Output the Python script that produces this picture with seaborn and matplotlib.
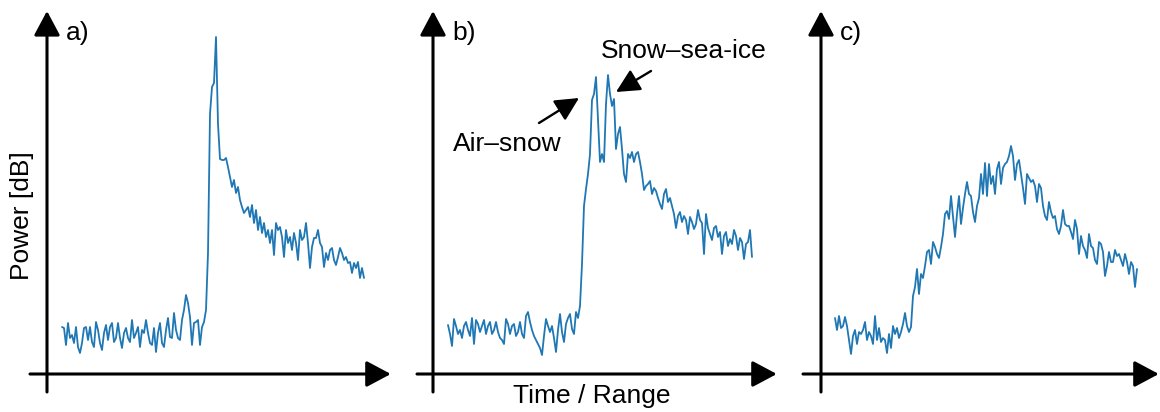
import numpy as np
import pandas as pd
import matplotlib
matplotlib.use("Agg")
import matplotlib.pyplot as plt
import seaborn as sns

# ---------------- data (power, arbitrary dB-like units above the axis) ----------------
panel_labels = ["a)", "b)", "c)"]

power_a = [
    47, 46, 29, 51, 36, 39, 31, 47, 27, 21,
    31, 46, 47, 34, 47, 32, 27, 52, 44, 31,
    24, 41, 49, 34, 47, 51, 32, 36, 51, 36,
    26, 41, 46, 36, 32, 54, 36, 41, 47, 27,
    44, 41, 54, 41, 31, 29, 46, 22, 41, 51,
    31, 27, 44, 56, 37, 36, 61, 44, 36, 34,
    54, 64, 79, 71, 57, 29, 51, 52, 54, 29,
    47, 52, 64,
    121, 260, 287, 291, 337, 250, 215,
    214, 214, 216, 207, 197, 187, 194, 181, 187, 174,
    167, 161, 164, 167, 157, 169, 151, 164, 144, 157,
    141, 151, 137, 144, 131, 144, 119, 151, 144, 147,
    137, 117, 144, 131, 137, 124, 141, 131, 114, 144,
    134, 137, 151, 131, 106, 127, 136, 136, 144, 131,
    127, 107, 121, 114, 124, 126, 114, 109, 117, 126,
    121, 114, 117, 111, 112, 101, 111, 106, 112, 96,
    106, 96,
]

power_b = [
    49, 40, 28, 55, 48, 40, 44, 36, 48, 52,
    44, 38, 56, 30, 54, 50, 42, 48, 54, 40,
    48, 52, 40, 44, 52, 42, 36, 34, 30, 55,
    50, 40, 48, 50, 38, 42, 52, 40, 36, 58,
    62, 52, 44, 38, 34, 30, 26, 19, 38, 55,
    48, 42, 48, 36, 22, 44, 60, 42, 32, 50,
    56, 60, 45, 40, 62, 56, 68,
    110, 168, 185, 200, 220, 274, 280, 297, 255, 212, 220, 212, 270, 299,
    280, 268, 275, 225, 240, 247, 225, 200, 192, 220,
    216, 222, 212, 220, 222, 212, 200, 184, 188, 190,
    193, 180, 186, 183, 176, 170, 165, 180, 185, 172,
    176, 168, 160, 146, 158, 162, 152, 158, 154, 140,
    157, 152, 145, 150, 164, 154, 151, 120, 160, 146,
    140, 134, 146, 148, 137, 142, 120, 138, 142, 128,
    135, 130, 144, 138, 124, 136, 132, 115, 130, 132,
    144, 117,
]

power_c = [
    56, 44, 58, 46, 48, 57, 48, 34, 20, 38,
    44, 30, 42, 40, 44, 52, 34, 42, 38, 30,
    58, 34, 46, 32, 36, 34, 21, 40, 26, 48,
    40, 46, 36, 42, 50, 61, 48, 42, 47, 78,
    87, 105, 80, 100, 96, 108, 122, 124, 110, 132,
    127, 120, 116, 127, 140, 160, 163, 155, 178, 158,
    137, 160, 178, 150, 166, 180, 192, 180, 178, 162,
    152, 168, 176, 200, 180, 211, 178, 210, 190, 198,
    180, 205, 212, 190, 206, 210, 212, 218, 228, 218,
    194, 210, 214, 200, 186, 170, 200, 196, 192, 194,
    188, 172, 190, 186, 168, 158, 154, 172, 162, 156,
    158, 145, 140, 148, 164, 150, 148, 148, 142, 135,
    154, 145, 120, 138, 128, 124, 116, 140, 128, 126,
    114, 110, 132, 130, 122, 98, 108, 122, 112, 112,
    124, 118, 120, 114, 108, 120, 112, 100, 112, 108,
    87, 105,
]

# ---------------- style ----------------
sns.set_theme(style="white")
plt.rcParams["font.family"] = ["Liberation Sans", "DejaVu Sans"]
plt.rcParams["text.color"] = "black"

W, H = 1160, 412
fig = plt.figure(figsize=(W / 100, H / 100), dpi=100)

LINE_COLOR = "#1f77b4"
FS = 19
AX_Y = 374      # pixel row of the horizontal axis
TOP, BOTTOM = 10, 392
STEP = 2.0      # pixels per sample

# layout per panel: left edge, right arrow tip, first-sample pixel, vertical axis pixel
layout = [
    dict(left=30, right=392, x0=62, yaxis=47),
    dict(left=417, right=778, x0=448, yaxis=433),
    dict(left=803, right=1160, x0=835, yaxis=821),
]

axes = []
for vals, lab, L in zip([power_a, power_b, power_c], panel_labels, layout):
    ax = fig.add_axes([L["left"] / W, 1 - BOTTOM / H,
                       (L["right"] - L["left"]) / W, (BOTTOM - TOP) / H])
    df = pd.DataFrame({"sample": np.arange(len(vals)), "power": vals})
    sns.lineplot(data=df, x="sample", y="power", ax=ax, color=LINE_COLOR,
                 linewidth=1.3)
    xlim = ((L["left"] - L["x0"]) / STEP, (L["right"] - L["x0"]) / STEP)
    ylim = (AX_Y - BOTTOM, AX_Y - TOP)
    ax.set_xlim(*xlim)
    ax.set_ylim(*ylim)
    ax.axis("off")

    arrow = dict(arrowstyle="-|>,head_length=0.75,head_width=0.4",
                 mutation_scale=20, lw=2.2, color="black",
                 shrinkA=0, shrinkB=0)
    ya = (L["yaxis"] - L["x0"]) / STEP
    ax.annotate("", xy=(xlim[1] - 0.6, 0), xytext=(xlim[0], 0),
                arrowprops=arrow, annotation_clip=False)
    ax.annotate("", xy=(ya, ylim[1] - 1), xytext=(ya, ylim[0]),
                arrowprops=arrow, annotation_clip=False)

    fig.text((L["yaxis"] + 19) / W, 1 - 40 / H, lab, ha="left",
             va="baseline", fontsize=FS, color="black")
    axes.append((ax, L))

# axis titles
fig.text(22 / W, 1 - 216 / H, "Power [dB]", rotation=90, ha="center",
         va="center", fontsize=FS, color="black")
fig.text(592 / W, 1 - 403 / H, "Time / Range", ha="center", va="baseline",
         fontsize=FS, color="black")

# annotations in panel b
ax_b, Lb = axes[1]


def to_data(px, py, L=Lb):
    return ((px - L["x0"]) / STEP, AX_Y - py)


small_arrow = dict(arrowstyle="-|>,head_length=0.8,head_width=0.4",
                   mutation_scale=18, lw=1.7, color="black",
                   shrinkA=0, shrinkB=0)
ax_b.annotate("", xy=to_data(579, 98), xytext=to_data(539, 123),
              arrowprops=small_arrow, annotation_clip=False)
ax_b.annotate("", xy=to_data(616, 92), xytext=to_data(651, 71),
              arrowprops=small_arrow, annotation_clip=False)
fig.text(453 / W, 1 - 151 / H, "Air–snow", ha="left", va="baseline",
         fontsize=FS, color="black")
fig.text(601 / W, 1 - 57.5 / H, "Snow–sea-ice", ha="left", va="baseline",
         fontsize=FS, color="black")

fig.savefig("out.png", dpi=100)
